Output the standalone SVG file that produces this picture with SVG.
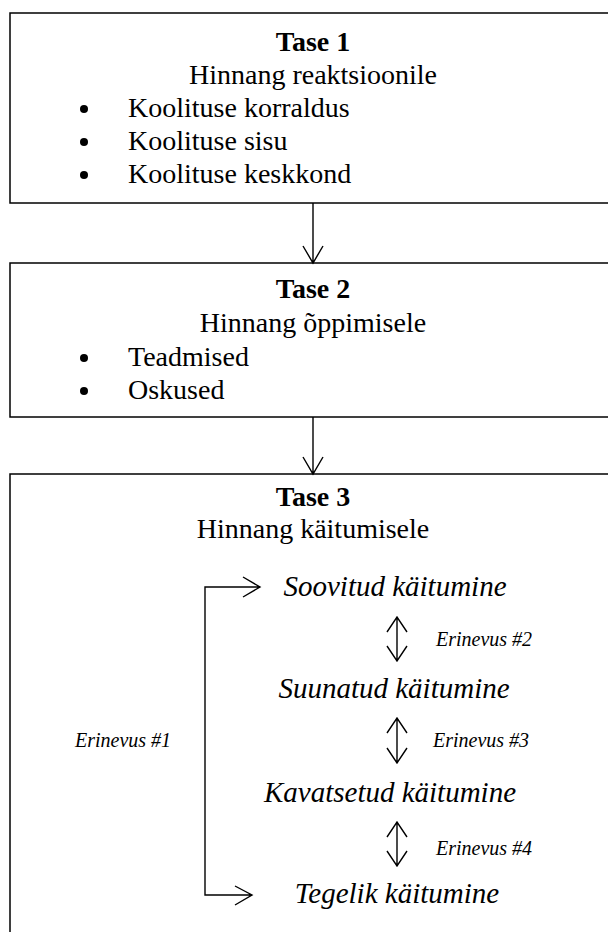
<svg xmlns="http://www.w3.org/2000/svg" width="608" height="932" viewBox="0 0 608 932">
<style>
.box{fill:#fff;stroke:#000;stroke-width:1.5}
.ln{fill:none;stroke:#000;stroke-width:1.4}
.dot{fill:#000}
.t{font-family:"Liberation Serif","Times New Roman",serif;fill:#000}
.h{font-size:28px;font-weight:bold;text-anchor:middle}
.s{font-size:28px;text-anchor:middle}
.b{font-size:28px}
.i{font-size:29px;font-style:italic;text-anchor:middle}
.e{font-size:20px;font-style:italic}
</style>
<rect width="608" height="932" fill="#fff"/>
<g id="tase1">
<rect class="box" x="10" y="13" width="620" height="190"/>
<text class="t h" x="313" y="51">Tase 1</text>
<text class="t s" x="313" y="84">Hinnang reaktsioonile</text>
<circle class="dot" cx="84" cy="109" r="4"/><text class="t b" x="128" y="117">Koolituse korraldus</text>
<circle class="dot" cx="84" cy="142" r="4"/><text class="t b" x="128" y="150">Koolituse sisu</text>
<circle class="dot" cx="84" cy="175" r="4"/><text class="t b" x="128" y="183">Koolituse keskkond</text>
</g>
<g id="tase2">
<rect class="box" x="10" y="263" width="620" height="154"/>
<text class="t h" x="313" y="298">Tase 2</text>
<text class="t s" x="313" y="332">Hinnang õppimisele</text>
<circle class="dot" cx="84" cy="358" r="4"/><text class="t b" x="128" y="366">Teadmised</text>
<circle class="dot" cx="84" cy="391" r="4"/><text class="t b" x="128" y="399">Oskused</text>
</g>
<g id="tase3">
<rect class="box" x="10" y="474" width="620" height="480"/>
<text class="t h" x="313" y="506">Tase 3</text>
<text class="t s" x="313" y="538">Hinnang käitumisele</text>
</g>
<g id="soovitud"><text class="t i" x="395" y="596">Soovitud käitumine</text></g>
<g id="suunatud"><text class="t i" x="394" y="698">Suunatud käitumine</text></g>
<g id="kavatsetud"><text class="t i" x="390" y="802">Kavatsetud käitumine</text></g>
<g id="tegelik"><text class="t i" x="397" y="903">Tegelik käitumine</text></g>
<g id="connectors">
<path class="ln" d="M313,203V263M303,246L313,263L323,246"/>
<path class="ln" d="M313,417V474M303,457L313,474L323,457"/>
<path class="ln" d="M260,587H205V895H252M243,577L260,587L243,597M235,886L252,895L235,905"/>
<path class="ln" d="M397,617V661M387,632L397,617L407,632M387,646L397,661L407,646"/>
<path class="ln" d="M397,718V763M387,733L397,718L407,733M387,748L397,763L407,748"/>
<path class="ln" d="M397,822V866M387,837L397,822L407,837M387,851L397,866L407,851"/>
<text class="t e" x="75" y="747">Erinevus #1</text>
<text class="t e" x="436" y="646">Erinevus #2</text>
<text class="t e" x="433" y="747">Erinevus #3</text>
<text class="t e" x="436" y="855">Erinevus #4</text>
</g>
</svg>
